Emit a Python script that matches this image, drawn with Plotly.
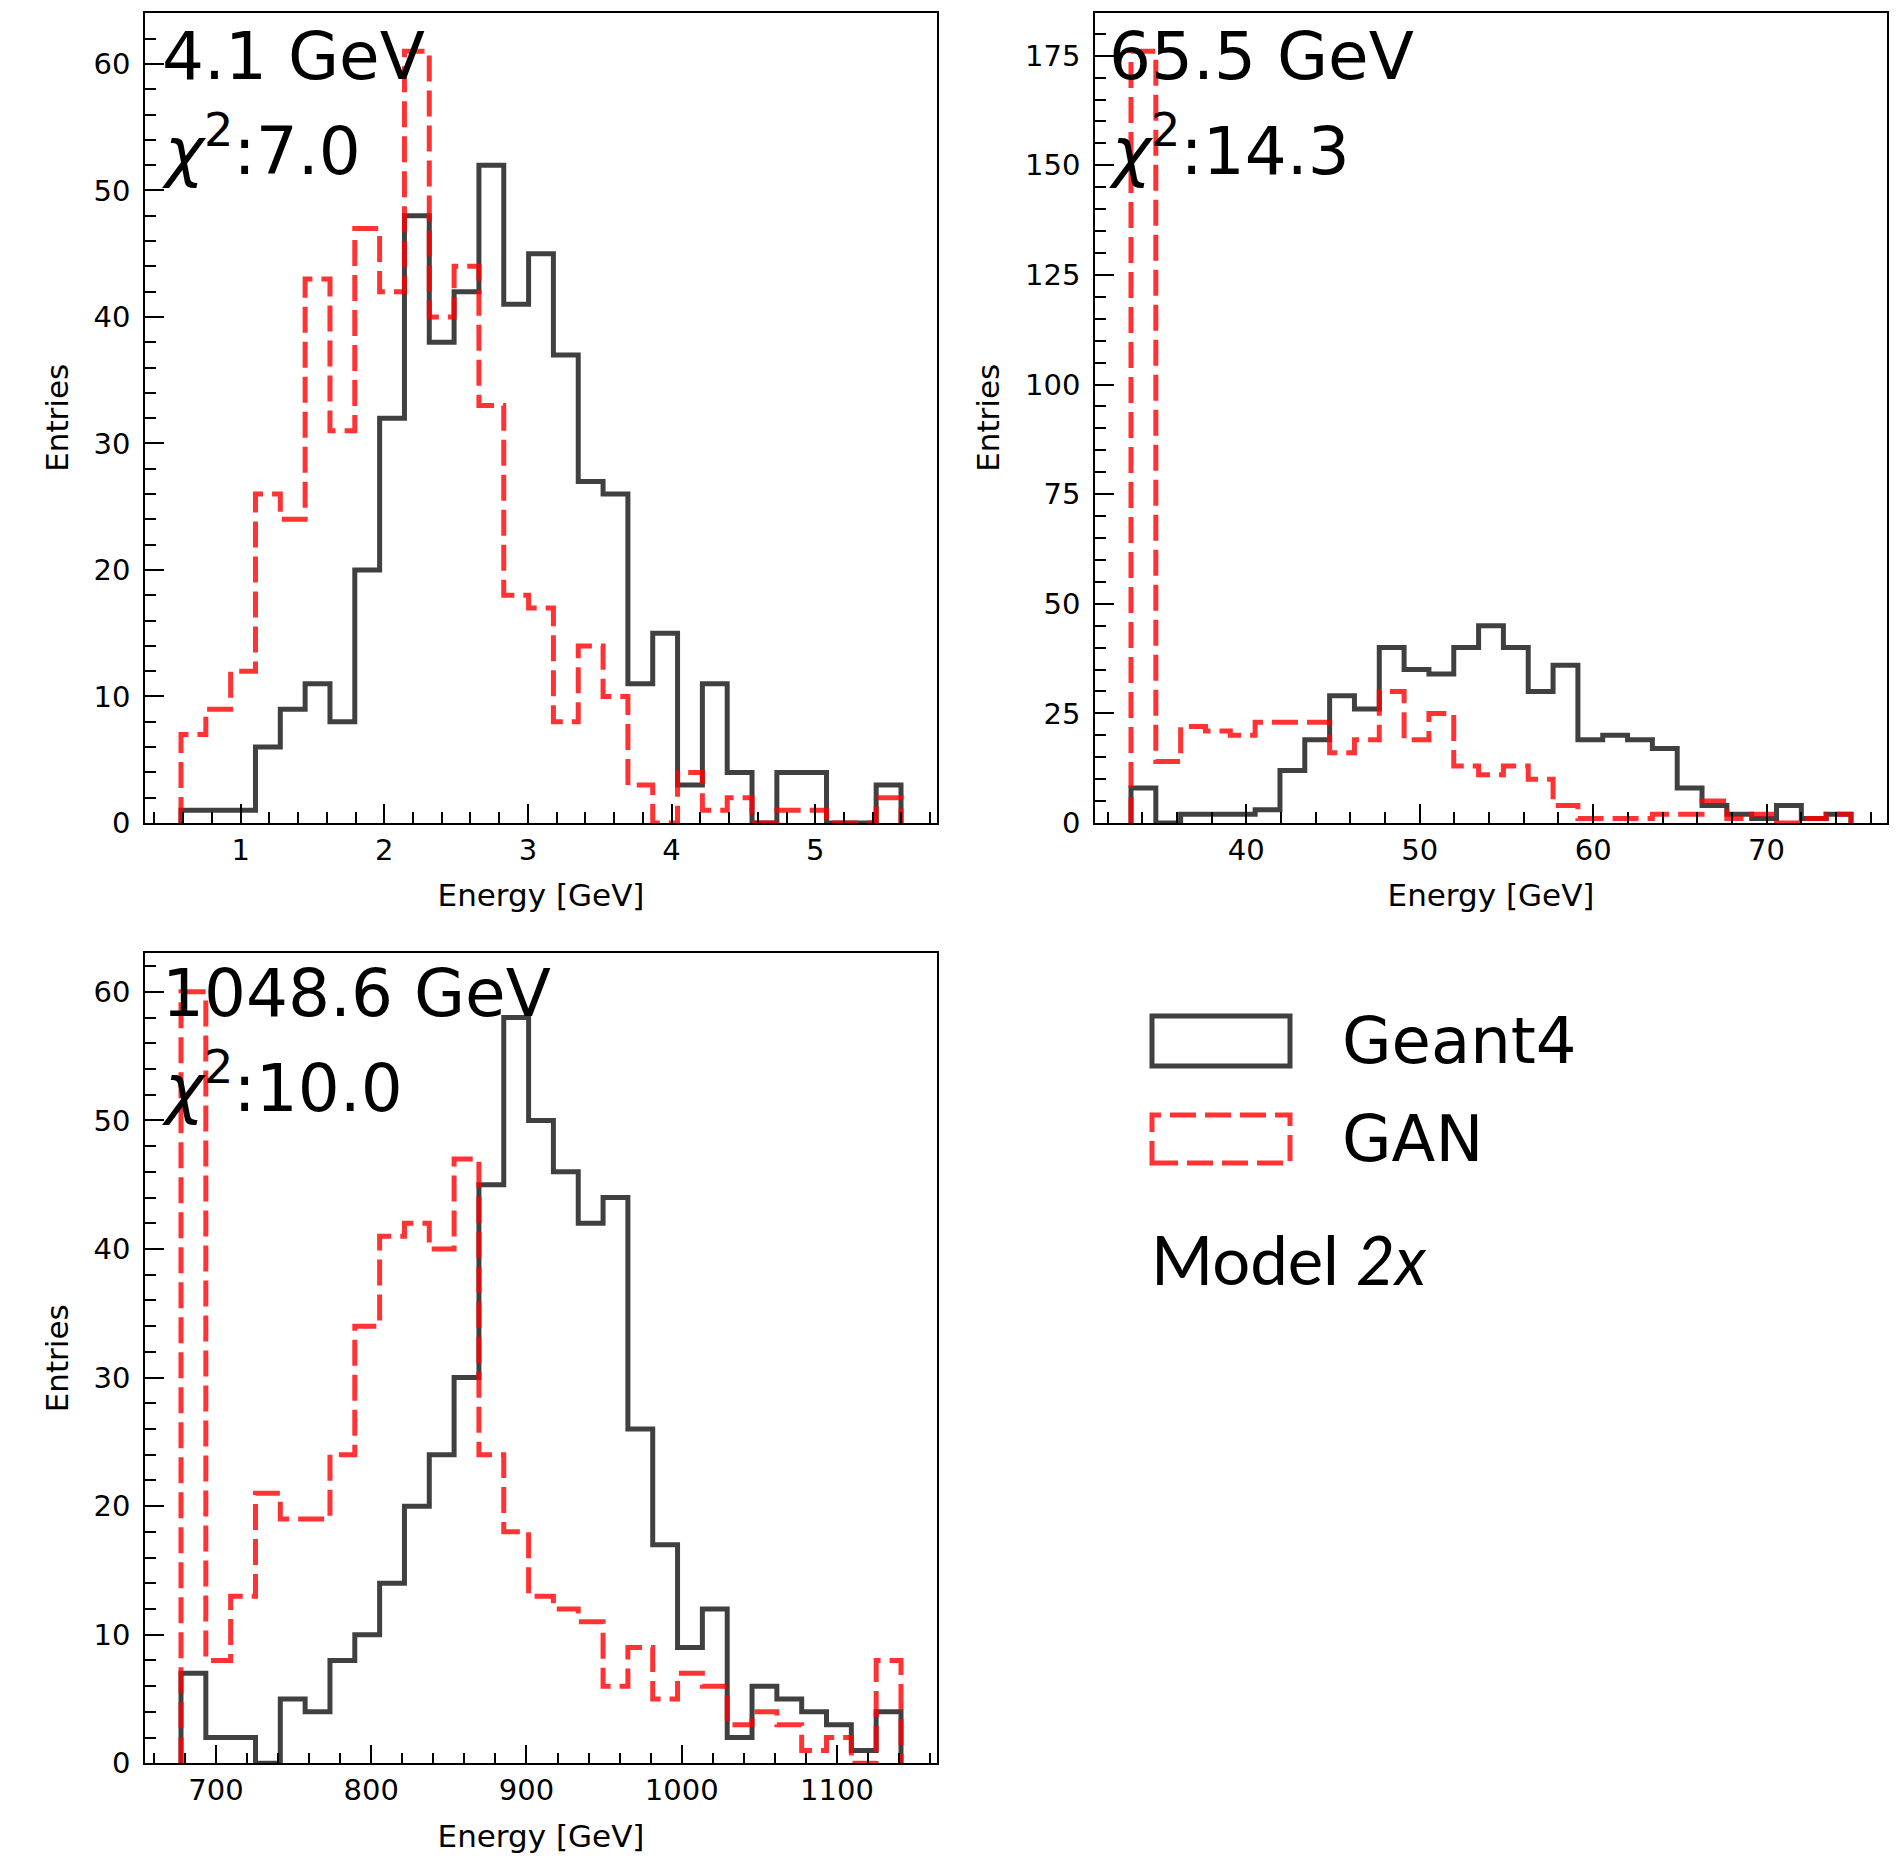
import plotly.graph_objects as go

# ---------------- data ----------------
# Panel 1 : 4.1 GeV
edges1 = (0.585, 5.597)
geant4_1 = [1, 1, 1, 6, 9, 11, 8, 20, 32, 48, 38, 42, 52, 41, 45, 37, 27, 26, 11, 15, 3, 11, 4, 0, 4, 4, 0, 0, 3]
gan_1 = [7, 9, 12, 26, 24, 43, 31, 47, 42, 61, 40, 44, 33, 18, 17, 8, 14, 10, 3, 0, 4, 1, 2, 0, 1, 1, 0, 0, 2]
xticks1 = [1, 2, 3, 4, 5]
yticks1 = [0, 10, 20, 30, 40, 50, 60]

# Panel 2 : 65.5 GeV
edges2 = (33.35, 74.87)
geant4_2 = [8, 0, 2, 2, 2, 3, 12, 19, 29, 26, 40, 35, 34, 40, 45, 40, 30, 36, 19, 20, 19, 17, 8, 4, 2, 1, 4, 1, 2]
gan_2 = [176, 14, 22, 21, 20, 23, 23, 23, 16, 19, 30, 19, 25, 13, 11, 13, 10, 4, 1, 1, 1, 2, 2, 5, 1, 2, 0, 1, 2]
xticks2 = [40, 50, 60, 70]
yticks2 = [0, 25, 50, 75, 100, 125, 150, 175]

# Panel 3 : 1048.6 GeV
edges3 = (677.5, 1141.2)
geant4_3 = [7, 2, 2, 0, 5, 4, 8, 10, 14, 20, 24, 30, 45, 58, 50, 46, 42, 44, 26, 17, 9, 12, 2, 6, 5, 4, 3, 1, 4]
gan_3 = [60, 8, 13, 21, 19, 19, 24, 34, 41, 42, 40, 47, 24, 18, 13, 12, 11, 6, 9, 5, 7, 6, 3, 4, 3, 1, 2, 0, 8]
xticks3 = [700, 800, 900, 1000, 1100]
yticks3 = [0, 10, 20, 30, 40, 50, 60]

energies = ["4.1 GeV", "65.5 GeV", "1048.6 GeV"]
chi2 = ["7.0", "14.3", "10.0"]

# ---------------- layout helpers ----------------
W, H = 1896, 1859
BLACK = "rgba(0,0,0,0.75)"
RED = "rgba(255,0,0,0.8)"
FONT = "DejaVu Sans"


def px_x(p):
    return p / W


def px_y(p):
    return 1 - p / H


def step_path(lo, hi, counts):
    n = len(counts)
    w = (hi - lo) / n
    edges = [lo + i * w for i in range(n + 1)]
    xs, ys = [edges[0]], [0]
    for i, c in enumerate(counts):
        xs += [edges[i], edges[i + 1]]
        ys += [c, c]
    xs.append(edges[-1])
    ys.append(0)
    return xs, ys


fig = go.Figure()

panels = [
    dict(edges=edges1, g=geant4_1, r=gan_1, xt=xticks1, yt=yticks1, xminor=0.2, yminor=2,
         dom_x=(145, 937), dom_y=(12.7, 823), ax="", ),
    dict(edges=edges2, g=geant4_2, r=gan_2, xt=xticks2, yt=yticks2, xminor=2, yminor=5,
         dom_x=(1095, 1887), dom_y=(12.7, 823), ax="2"),
    dict(edges=edges3, g=geant4_3, r=gan_3, xt=xticks3, yt=yticks3, xminor=20, yminor=2,
         dom_x=(145, 937), dom_y=(953.3, 1763.3), ax="3"),
]

layout_axes = {}
for i, p in enumerate(panels):
    lo, hi = p["edges"]
    xs, ys = step_path(lo, hi, p["g"])
    xr, yr = step_path(lo, hi, p["r"])
    xa = "x" + p["ax"]
    ya = "y" + p["ax"]
    fig.add_trace(go.Scatter(x=xs, y=ys, mode="lines", xaxis=xa, yaxis=ya,
                             line=dict(color=BLACK, width=5), showlegend=False,
                             hoverinfo="skip"))
    fig.add_trace(go.Scatter(x=xr, y=yr, mode="lines", xaxis=xa, yaxis=ya,
                             line=dict(color=RED, width=5, dash="26px,9px"),
                             showlegend=False, hoverinfo="skip"))
    span = hi - lo
    ymax = max(max(p["g"]), max(p["r"])) * 1.05
    common = dict(showline=True, mirror=True, linecolor="black", linewidth=1.5,
                  ticks="inside", ticklen=19, tickwidth=1.5, tickcolor="black",
                  showgrid=False, zeroline=False, automargin=False,
                  tickfont=dict(family=FONT, size=29, color="black"))
    layout_axes["xaxis" + p["ax"]] = dict(
        common, domain=[px_x(p["dom_x"][0]), px_x(p["dom_x"][1])],
        range=[lo - 0.05 * span, hi + 0.05 * span],
        anchor=ya, tickmode="array", tickvals=p["xt"], ticktext=[str(v) for v in p["xt"]],
        minor=dict(ticks="inside", ticklen=11, tickwidth=1.5, tickcolor="black",
                   dtick=p["xminor"], tick0=0),
        ticklabelstandoff=0,
        title=dict(text="Energy [GeV]", font=dict(family=FONT, size=31, color="black"),
                   standoff=19),
    )
    layout_axes["yaxis" + p["ax"]] = dict(
        common, domain=[px_y(p["dom_y"][1]), px_y(p["dom_y"][0])],
        range=[0, ymax], anchor=xa, tickmode="array", tickvals=p["yt"],
        ticktext=[str(v) for v in p["yt"]],
        minor=dict(ticks="inside", ticklen=11, tickwidth=1.5, tickcolor="black",
                   dtick=p["yminor"], tick0=0),
        ticklabelstandoff=7,
        title=dict(text="Entries", font=dict(family=FONT, size=31, color="black"),
                   standoff=16),
    )

fig.update_layout(**layout_axes)

# ---------------- in-plot labels ----------------
ann = []
label_pos = [(160, 57, 147), (1107, 57, 147), (160, 994, 1083)]
for (x0, y_e, y_c), e, c in zip(label_pos, energies, chi2):
    ann.append(dict(text=e, x=px_x(x0), y=px_y(y_e), xref="paper", yref="paper",
                    xanchor="left", yanchor="middle", showarrow=False,
                    font=dict(family=FONT, size=66, color="black")))
    ann.append(dict(text="<i>χ</i><sup>2</sup>:" + c, x=px_x(x0), y=px_y(y_c),
                    xref="paper", yref="paper", xanchor="left", yanchor="middle",
                    showarrow=False, font=dict(family=FONT, size=66, color="black")))

# ---------------- legend (drawn as boxes + text) ----------------
legend_items = ["Geant4", "GAN"]
ann.append(dict(text=legend_items[0], x=px_x(1340), y=px_y(1041), xref="paper", yref="paper",
                xanchor="left", yanchor="middle", showarrow=False,
                font=dict(family=FONT, size=64, color="black")))
ann.append(dict(text=legend_items[1], x=px_x(1340), y=px_y(1139), xref="paper", yref="paper",
                xanchor="left", yanchor="middle", showarrow=False,
                font=dict(family=FONT, size=64, color="black")))
ann.append(dict(text="Model <i>2x</i>", x=px_x(1149), y=px_y(1259), xref="paper", yref="paper",
                xanchor="left", yanchor="middle", showarrow=False,
                font=dict(family="Lato", size=67, color="black")))

shapes = [
    dict(type="rect", xref="paper", yref="paper", x0=px_x(1152), x1=px_x(1290),
         y0=px_y(1066), y1=px_y(1016), line=dict(color=BLACK, width=5)),
    dict(type="rect", xref="paper", yref="paper", x0=px_x(1152), x1=px_x(1290),
         y0=px_y(1163), y1=px_y(1115), line=dict(color=RED, width=5, dash="26px,9px")),
]

fig.update_layout(
    width=W, height=H, margin=dict(l=0, r=0, t=0, b=0, autoexpand=False),
    paper_bgcolor="white", plot_bgcolor="white",
    annotations=ann, shapes=shapes, showlegend=False,
)

fig.write_html("out.html")
